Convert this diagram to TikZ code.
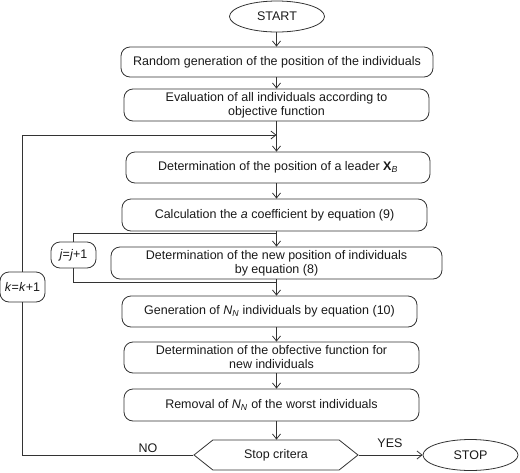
\documentclass[tikz,border=0pt]{standalone}
\usepackage{fontspec}
\setmainfont{Liberation Sans}
\usetikzlibrary{arrows.meta,shapes.geometric,shapes.symbols}

\tikzset{
	flowline/.style={line width=0.8pt, color=black!80},
	block/.style={draw=black!80, line width=0.8pt, rounded corners=9pt, align=center, inner sep=0pt, text=black!90, font=\fontsize{12.5}{14}\selectfont},
	terminal/.style={draw=black!80, line width=0.8pt, ellipse, inner sep=0pt, minimum width=95pt, minimum height=31pt, text=black!90, font=\fontsize{12.5}{14}\selectfont},
	decision/.style={draw=black!80, line width=0.8pt, signal, signal to=west and east, signal pointer angle=77, inner sep=0pt, minimum width=164pt, minimum height=30pt, text=black!90, font=\fontsize{12.5}{14}\selectfont},
	>={Straight Barb[length=5pt,width=8pt]}
}

\begin{document}
\begin{tikzpicture}[x=1pt, y=-1pt]
			%%%%% START %%%%%
			
			\useasboundingbox (0, 0) rectangle (520, 472);
			
			\coordinate (spine) at (276.5, 0);
			
			\node[terminal] (start) at (277, 16.5) {START};
			\node[block, minimum width=312pt, minimum height=30pt] (rand) at (277, 62) {Random generation of the position of the individuals};
			\node[block, minimum width=305pt, minimum height=32pt] (eval) at (276.5, 105) {Evaluation of all individuals according to\\objective function};
			\node[block, minimum width=304pt, minimum height=31pt] (leader) at (278, 167.5) {Determination of the position of a leader \textbf{X}\textsubscript{\textit{B}}};
			\node[block, minimum width=305pt, minimum height=32pt] (calc) at (274.5, 215) {Calculation the \textit{a} coefficient by equation (9)};
			\node[block, minimum width=331pt, minimum height=32pt] (newpos) at (276.5, 263) {Determination of the new position of individuals\\by equation (8)};
			\node[block, minimum width=295pt, minimum height=31pt] (gen) at (269.5, 311.5) {Generation of \textit{N}\textsubscript{\textit{N}} individuals by equation (10)};
			\node[block, minimum width=295pt, minimum height=31pt] (objf) at (271.5, 357.5) {Determination of the obfective function for\\new individuals};
			\node[block, minimum width=295pt, minimum height=32pt] (remov) at (271.5, 405) {Removal of \textit{N}\textsubscript{\textit{N}} of the worst individuals};
			\node[decision] (stopc) at (276, 455) {Stop critera};
			\node[terminal] (stop) at (470.5, 455) {STOP};
			
			\node[block, minimum width=45pt, minimum height=26pt] (jinc) at (73.5, 255) {\textit{j}=\textit{j}+1};
			\node[block, minimum width=45pt, minimum height=30pt] (kinc) at (22.5, 287) {\textit{k}=\textit{k}+1};
			
			\draw[flowline, ->] (start.south -| spine) -- (rand.north -| spine);
			\draw[flowline, ->] (rand.south -| spine) -- (eval.north -| spine);
			\draw[flowline, ->] (eval.south -| spine) -- (leader.north -| spine);
			\draw[flowline, ->] (leader.south -| spine) -- (calc.north -| spine);
			\draw[flowline, ->] (calc.south -| spine) -- (newpos.north -| spine);
			\draw[flowline, ->] (newpos.south -| spine) -- (gen.north -| spine);
			\draw[flowline, ->] (gen.south -| spine) -- (objf.north -| spine);
			\draw[flowline, ->] (objf.south -| spine) -- (remov.north -| spine);
			\draw[flowline, ->] (remov.south -| spine) -- (stopc.north -| spine);
			\draw[flowline, ->] (stopc.east) -- (stop.west);
			
			% inner loop
			\coordinate (jin) at (276.5, 233);
			\coordinate (jout) at (276.5, 282);
			\draw[flowline] (jout) -| (jinc.south);
			\draw[flowline] (jinc.north) |- (jin);
			
			% outer loop
			\coordinate (kin) at (276.5, 135);
			\draw[flowline] (stopc.west) -| (kinc.south);
			\draw[flowline, ->] (kinc.north) |- (kin);
			
			\node[text=black!90, font=\fontsize{12.5}{14}\selectfont] (nolabel) at (148, 448) {NO};
			\node[text=black!90, font=\fontsize{12.5}{14}\selectfont] (yeslabel) at (390, 443) {YES};
			
			%%%%% END %%%%%
		\end{tikzpicture}
\end{document}
